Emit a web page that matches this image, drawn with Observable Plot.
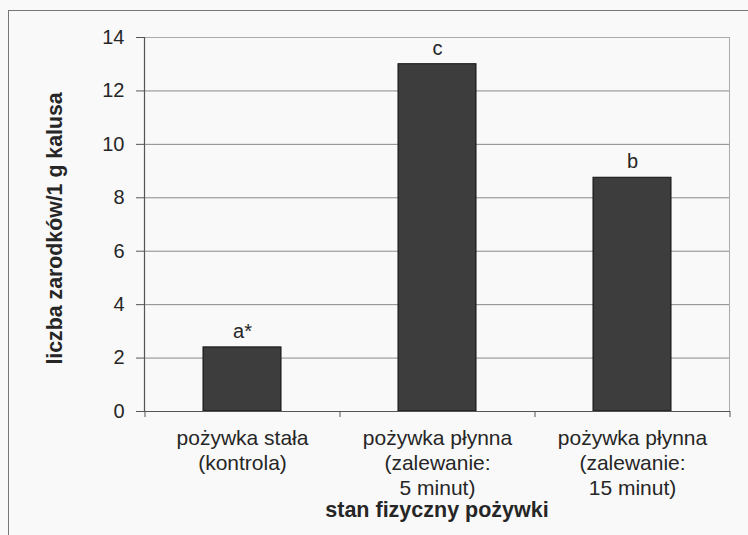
<!DOCTYPE html>
<html>
<head>
<meta charset="utf-8">
<script src="https://cdn.jsdelivr.net/npm/d3@7"></script>
<script src="https://cdn.jsdelivr.net/npm/@observablehq/plot@0.6"></script>
<style>
  html, body { margin: 0; padding: 0; background: #f9f9f9; }
  #wrap { position: relative; width: 748px; height: 535px; overflow: hidden; }
  #border { position: absolute; left: 8px; top: 10px; width: 800px; height: 600px; border-left: 1.5px solid #777; border-top: 1.5px solid #777; }
  #chart { position: absolute; left: 0; top: 0; }
  svg { font-family: "Liberation Sans", Arial, sans-serif; }
</style>
</head>
<body>
<div id="wrap"><div id="border"></div><div id="chart"></div></div>
<script>
const categories = [
  "pożywka stała\n(kontrola)",
  "pożywka płynna\n(zalewanie:\n5 minut)",
  "pożywka płynna\n(zalewanie:\n15 minut)"
];
const values = [2.4, 13.0, 8.75];
const letters = ["a*", "c", "b"];
const yTicks = [0, 2, 4, 6, 8, 10, 12, 14];
const yTitle = "liczba zarodków/1 g kalusa";
const xTitle = "stan fizyczny pożywki";

const data = categories.map((c, i) => ({cat: c, value: values[i], letter: letters[i]}));

const plot = Plot.plot({
  width: 748,
  height: 535,
  marginLeft: 144,
  marginTop: 37,
  marginRight: 19,
  marginBottom: 124,
  style: {background: "transparent", fontFamily: "Liberation Sans, Arial, sans-serif", color: "#262626"},
  x: {type: "band", domain: categories, paddingInner: 0.6, paddingOuter: 0.3, label: null},
  y: {domain: [0, 14], label: null},
  marks: [
    Plot.gridY(yTicks, {stroke: "#8a8a8a", strokeOpacity: 1, strokeWidth: 1}),
    Plot.frame({stroke: "#aaa", strokeWidth: 1}),
    Plot.barY(data, {x: "cat", y: "value", fill: "#3d3d3d", stroke: "#111", strokeWidth: 1}),
    Plot.text(data, {x: "cat", y: "value", text: "letter", dy: -16, fontSize: 20, fill: "#262626"}),
    Plot.frame({anchor: "left", stroke: "#555", strokeWidth: 1.2}),
    Plot.frame({anchor: "bottom", stroke: "#555", strokeWidth: 1.2}),
    Plot.axisY(yTicks, {tickSize: 8, tickPadding: 12, fontSize: 20, stroke: "#555", fill: "#262626", label: null}),
    Plot.axisX({tickSize: 0, tickPadding: 16, fontSize: 21, lineHeight: 1.18, label: null, fill: "#262626"}),
    Plot.ruleX(categories, {x: d => d, dx: -97.5, y1: 0, y2: 0, insetBottom: -6, stroke: "#555"}),
    Plot.ruleX(categories.slice(-1), {x: d => d, dx: 97.5, y1: 0, y2: 0, insetBottom: -6, stroke: "#555"}),
    Plot.text([yTitle], {frameAnchor: "left", textAnchor: "middle", rotate: -90, dx: -89, dy: 4, fontSize: 21.3, fontWeight: "bold", fill: "#262626"}),
    Plot.text([xTitle], {frameAnchor: "bottom", dy: 105, fontSize: 21.5, fontWeight: "bold", fill: "#262626"})
  ]
});
document.getElementById("chart").appendChild(plot);
</script>
</body>
</html>
